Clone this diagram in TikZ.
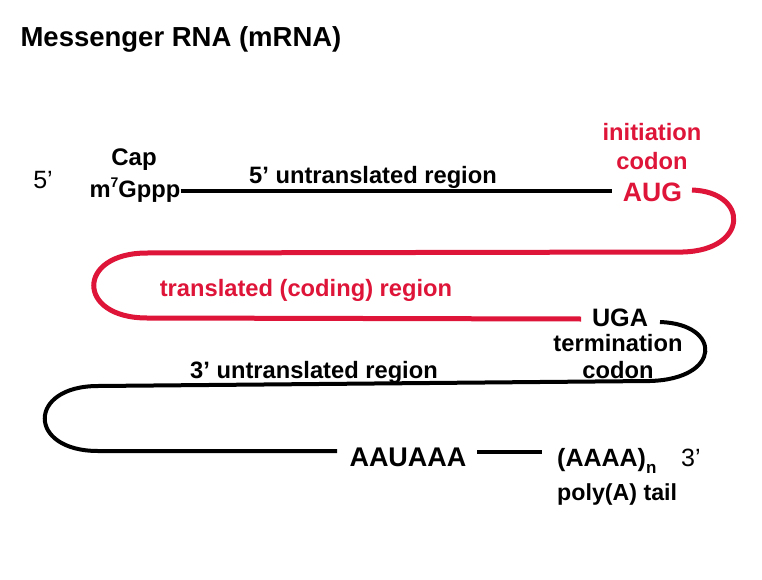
\documentclass[tikz,border=0pt]{standalone}
\usepackage{fontspec}
\setmainfont{Liberation Sans}
\newcommand\myfs[1]{\fontsize{#1}{#1}\selectfont}
\definecolor{rnared}{RGB}{222,20,56}
\begin{document}
\begin{tikzpicture}[x=1pt,y=-1pt,
  txt/.style={inner sep=0pt, anchor=base},
  bt/.style={txt, font=\bfseries\myfs{23.7}},
  blk/.style={line width=4pt, black},
  rline/.style={line width=5pt, rnared}]
\useasboundingbox (0,0) rectangle (762,580);
% texts
\node[txt, font=\bfseries\myfs{27.5}] (title) at (181,47) {Messenger RNA (mRNA)};
\node[txt, font=\myfs{25}] (five) at (43,189) {5’};
\node[txt, font=\bfseries\myfs{24}] (cap) at (134,165) {Cap};
\node[bt] (m7) at (135,197) {m\raisebox{0.42em}{\myfs{14}7}Gppp};
\node[bt] (utr5) at (373,183) {5’ untranslated region};
\node[bt, text=rnared] (init) at (652,141) {initiation};
\node[bt, text=rnared] (codon1) at (652,170) {codon};
\node[txt, font=\bfseries\myfs{26.6}, text=rnared] (aug) at (652.5,201) {AUG};
\node[bt, text=rnared] (coding) at (306,296) {translated (coding) region};
\node[txt, font=\bfseries\myfs{25.2}] (uga) at (620,326) {UGA};
\node[bt] (term) at (618,351) {termination};
\node[bt] (codon2) at (618,378) {codon};
\node[bt] (utr3) at (314,378) {3’ untranslated region};
\node[txt, font=\bfseries\myfs{27}] (aauaaa) at (408,466) {AAUAAA};
\node[txt, anchor=base west, font=\bfseries\myfs{25}] (polya) at (557,466) {(AAAA)\raisebox{-0.28em}{\myfs{17}n}};
\node[txt, anchor=base west, font=\myfs{25}] (three) at (681,466) {3’};
\node[txt, anchor=base west, font=\bfseries\myfs{23.2}] (tail) at (557,500) {poly(A) tail};
% connectors
\coordinate (a1) at (612,191);
\draw[blk] (m7.east |- a1) -- (a1);
\coordinate (r0) at (692,190);
\coordinate (r1) at (683,252);
\coordinate (r2) at (147,253);
\coordinate (r3) at (147,318);
\coordinate (r4) at (581,319);
\draw[rline] (r0) .. controls (749,192) and (749,250) .. (r1) -- (r2)
  .. controls (76,253) and (76,318) .. (r3) -- (r4);
\coordinate (b0) at (660,322);
\coordinate (b1) at (650,381);
\coordinate (b2) at (98,386);
\coordinate (b3) at (98,451);
\coordinate (b4) at (337,451);
\draw[blk] (b0) .. controls (722,324) and (722,379) .. (b1) -- (b2)
  .. controls (27,386) and (27,451) .. (b3) -- (b4);
\coordinate (b5) at (477,452);
\coordinate (b6) at (542,452);
\draw[blk] (b5) -- (b6);
\end{tikzpicture}
\end{document}
